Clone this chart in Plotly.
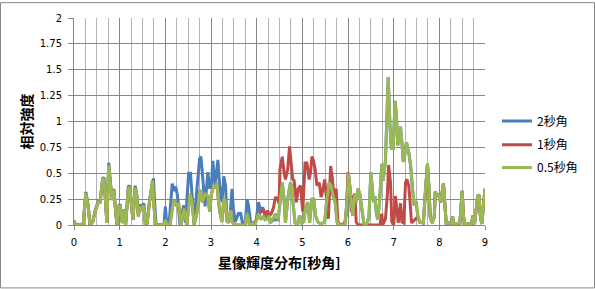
import plotly.graph_objects as go

# ---------------- data ----------------
series_names = ["2秒角", "1秒角", "0.5秒角"]
x_title = "星像輝度分布[秒角]"
y_title = "相対強度"
y_ticks = [0, 0.25, 0.5, 0.75, 1, 1.25, 1.5, 1.75, 2]
x_ticks = [0, 1, 2, 3, 4, 5, 6, 7, 8, 9]

# 0.5秒角 (green) profile
green_x = [0.00, 0.04, 0.20, 0.26, 0.31, 0.35, 0.41, 0.47, 0.54, 0.57, 0.63, 0.66, 0.72, 0.76, 0.81,
           0.84, 0.87, 0.91, 0.94, 0.99, 1.01, 1.06, 1.10, 1.13, 1.19, 1.22, 1.26, 1.29, 1.34, 1.37,
           1.41, 1.44, 1.47, 1.53, 1.56, 1.60, 1.66, 1.72, 1.75, 1.79, 1.97, 2.00, 2.03, 2.10, 2.18,
           2.22, 2.25, 2.29, 2.34, 2.41, 2.47, 2.54, 2.59, 2.63, 2.69, 2.76, 2.81, 2.87, 2.93, 2.97,
           3.01, 3.06, 3.10, 3.13, 3.16, 3.19, 3.24, 3.28, 3.31, 3.35, 3.38, 3.43, 3.46, 3.53, 3.75,
           3.79, 3.84, 3.97, 4.04, 4.09, 4.15, 4.18, 4.24, 4.28, 4.31, 4.37, 4.41, 4.47, 4.51, 4.56,
           4.60, 4.63, 4.69, 4.74, 4.76, 4.79, 4.84, 4.90, 4.94, 4.99, 5.03, 5.07, 5.12, 5.16, 5.21,
           5.25, 5.29, 5.34, 5.41, 5.49, 5.53, 5.59, 5.63, 5.68, 5.72, 5.76, 5.81, 5.93, 5.97, 6.01,
           6.06, 6.10, 6.15, 6.18, 6.22, 6.26, 6.31, 6.35, 6.41, 6.46, 6.50, 6.53, 6.56, 6.59, 6.62,
           6.65, 6.69, 6.74, 6.77, 6.82, 6.85, 6.88, 6.92, 6.95, 6.99, 7.03, 7.06, 7.09, 7.12, 7.15,
           7.18, 7.21, 7.24, 7.28, 7.33, 7.37, 7.41, 7.45, 7.49, 7.53, 7.57, 7.65, 7.69, 7.74, 7.77,
           7.80, 7.84, 7.89, 7.91, 7.95, 7.98, 8.03, 8.09, 8.12, 8.15, 8.27, 8.29, 8.32, 8.45, 8.50,
           8.53, 8.56, 8.70, 8.74, 8.77, 8.84, 8.87, 8.90, 8.93, 9.00]
green_y = [0.04, 0.00, 0.00, 0.31, 0.18, 0.00, 0.03, 0.14, 0.23, 0.21, 0.45, 0.44, 0.02, 0.58, 0.34,
           0.24, 0.34, 0.14, 0.00, 0.18, 0.18, 0.02, 0.14, 0.00, 0.35, 0.37, 0.18, 0.05, 0.36, 0.30,
           0.08, 0.18, 0.14, 0.19, 0.02, 0.02, 0.24, 0.43, 0.18, 0.00, 0.00, 0.05, 0.01, 0.00, 0.24,
           0.22, 0.18, 0.21, 0.00, 0.16, 0.00, 0.30, 0.21, 0.00, 0.11, 0.34, 0.22, 0.30, 0.28, 0.13,
           0.30, 0.38, 0.36, 0.41, 0.25, 0.13, 0.03, 0.25, 0.24, 0.05, 0.02, 0.14, 0.03, 0.00, 0.00,
           0.11, 0.01, 0.01, 0.11, 0.05, 0.09, 0.05, 0.06, 0.09, 0.02, 0.08, 0.11, 0.05, 0.19, 0.41,
           0.25, 0.02, 0.28, 0.41, 0.38, 0.22, 0.02, 0.01, 0.09, 0.02, 0.03, 0.16, 0.22, 0.02, 0.25,
           0.25, 0.09, 0.03, 0.01, 0.03, 0.22, 0.41, 0.38, 0.27, 0.22, 0.03, 0.00, 0.00, 0.19, 0.50,
           0.28, 0.09, 0.30, 0.22, 0.35, 0.30, 0.13, 0.01, 0.00, 0.09, 0.51, 0.38, 0.22, 0.28, 0.12,
           0.05, 0.22, 0.59, 0.43, 0.62, 1.10, 1.43, 0.95, 0.74, 0.74, 1.20, 1.06, 0.77, 0.86, 0.95,
           0.80, 0.61, 0.67, 0.80, 0.70, 0.58, 0.36, 0.19, 0.23, 0.08, 0.03, 0.02, 0.30, 0.59, 0.38,
           0.08, 0.02, 0.08, 0.32, 0.28, 0.30, 0.22, 0.40, 0.15, 0.02, 0.02, 0.08, 0.01, 0.02, 0.33,
           0.08, 0.01, 0.01, 0.09, 0.01, 0.28, 0.29, 0.08, 0.01, 0.35]

# 2秒角 (blue) profile where it differs from the others
blue_x_part = [0.00, 0.04, 0.20, 0.26, 0.31, 0.35, 0.41, 0.47, 0.54, 0.57, 0.63, 0.66, 0.72, 0.76, 0.81,
               0.84, 0.87, 0.91, 0.94, 0.99, 1.01, 1.06, 1.10, 1.13, 1.19, 1.22, 1.26, 1.29, 1.34, 1.37,
               1.41, 1.44, 1.47, 1.53, 1.56, 1.60, 1.66, 1.74, 1.77, 1.80, 1.97, 2.00, 2.03, 2.08, 2.15,
               2.19, 2.23, 2.27, 2.32, 2.40, 2.44, 2.51, 2.55, 2.60, 2.63, 2.69, 2.75, 2.78, 2.82, 2.87,
               2.93, 2.97, 3.01, 3.04, 3.09, 3.15, 3.19, 3.24, 3.28, 3.32, 3.35, 3.41, 3.46, 3.49, 3.53,
               3.60, 3.65, 3.69, 3.75, 3.79, 3.82, 3.87, 3.94, 3.99, 4.04, 4.09, 4.13, 4.16, 4.21, 4.26,
               4.31, 4.38]
blue_y_part = [0.04, 0.00, 0.00, 0.32, 0.19, 0.00, 0.03, 0.15, 0.24, 0.22, 0.46, 0.45, 0.02, 0.60, 0.35,
               0.25, 0.35, 0.15, 0.00, 0.19, 0.19, 0.02, 0.15, 0.00, 0.37, 0.38, 0.19, 0.05, 0.38, 0.31,
               0.10, 0.20, 0.16, 0.21, 0.02, 0.02, 0.26, 0.45, 0.18, 0.00, 0.00, 0.18, 0.02, 0.00, 0.40,
               0.33, 0.37, 0.27, 0.00, 0.19, 0.02, 0.50, 0.50, 0.18, 0.02, 0.34, 0.64, 0.66, 0.47, 0.18,
               0.51, 0.35, 0.40, 0.62, 0.38, 0.63, 0.38, 0.22, 0.47, 0.38, 0.03, 0.05, 0.35, 0.16, 0.03,
               0.11, 0.11, 0.02, 0.02, 0.25, 0.19, 0.02, 0.02, 0.05, 0.22, 0.13, 0.17, 0.14, 0.05, 0.09,
               0.03, 0.05]

# 1秒角 (red) profile where it differs from the others
red_x_part = [3.99, 4.04, 4.09, 4.15, 4.19, 4.24, 4.28, 4.32, 4.37, 4.41, 4.46, 4.49, 4.51, 4.56, 4.60,
              4.63, 4.68, 4.72, 4.76, 4.79, 4.82, 4.87, 4.91, 4.96, 4.99, 5.01, 5.06, 5.10, 5.15, 5.18,
              5.21, 5.24, 5.28, 5.32, 5.37, 5.41, 5.44, 5.49, 5.53, 5.57, 5.62, 5.66, 5.69, 5.74, 5.78,
              5.84, 5.93, 5.96, 6.00, 6.04, 6.07, 6.12, 6.15, 6.18, 6.22, 6.70, 6.74, 6.76, 6.82, 6.86,
              6.89, 6.93, 6.96, 7.00, 7.04, 7.07, 7.10, 7.15, 7.18, 7.22, 7.26, 7.29, 7.33, 7.36, 7.39]
red_y_part = [0.05, 0.08, 0.13, 0.14, 0.09, 0.14, 0.09, 0.11, 0.17, 0.27, 0.25, 0.21, 0.54, 0.66, 0.51,
              0.44, 0.54, 0.76, 0.57, 0.44, 0.43, 0.22, 0.35, 0.38, 0.22, 0.13, 0.60, 0.60, 0.44, 0.51,
              0.66, 0.63, 0.54, 0.38, 0.41, 0.27, 0.32, 0.44, 0.25, 0.06, 0.57, 0.44, 0.28, 0.35, 0.03,
              0.00, 0.02, 0.09, 0.51, 0.38, 0.13, 0.28, 0.30, 0.03, 0.00, 0.00, 0.11, 0.00, 0.06, 0.28,
              0.58, 0.41, 0.03, 0.00, 0.28, 0.13, 0.02, 0.21, 0.03, 0.02, 0.41, 0.44, 0.38, 0.22, 0.02]

# full series: where a series is hidden in the picture, it follows the green profile
green_pts = list(zip(green_x, green_y))
blue_pts = list(zip(blue_x_part, blue_y_part)) + [p for p in green_pts if p[0] >= 4.47]
red_pts = ([p for p in green_pts if p[0] <= 3.97] + list(zip(red_x_part, red_y_part))
           + [p for p in green_pts if p[0] >= 7.53])

colors = ["#4a7ebb", "#be4b48", "#98b954"]

# ---------------- layout geometry ----------------
W, H = 595, 289
L, R, T, B = 74, 485, 16, 225
PW, PH = R - L, B - T


def px_x(px):
    return (px - L) / PW


def px_y(py):
    return (B - py) / PH


fig = go.Figure()
legend_ids = ["legend", "legend2", "legend3"]
for name, pts, col, lid in zip(series_names, [blue_pts, red_pts, green_pts], colors, legend_ids):
    fig.add_trace(go.Scatter(
        x=[p[0] for p in pts], y=[p[1] for p in pts], mode="lines", name=name,
        line=dict(color=col, width=3), legend=lid, hoverinfo="skip"))

cjk = "Noto Sans CJK JP"
grid_dark = "#878787"
grid_light = "#b4b4b4"

legend_style = dict(xanchor="left", yanchor="middle", bgcolor="rgba(0,0,0,0)",
                    font=dict(family=cjk, size=12, color="#000"), itemwidth=30,
                    tracegroupgap=0)

fig.update_layout(
    width=W, height=H, autosize=False,
    margin=dict(l=L, r=W - R, t=T, b=H - B, pad=0),
    paper_bgcolor="white", plot_bgcolor="white",
    showlegend=True,
    legend=dict(x=px_x(497), y=px_y(120), **legend_style),
    legend2=dict(x=px_x(497), y=px_y(144), **legend_style),
    legend3=dict(x=px_x(497), y=px_y(167), **legend_style),
    xaxis=dict(range=[0, 9], tickmode="array", tickvals=x_ticks,
               ticks="outside", ticklen=4, tickcolor=grid_dark,
               showline=True, linecolor=grid_dark, linewidth=1,
               showgrid=True, gridcolor=grid_dark, gridwidth=1, zeroline=False,
               minor=dict(dtick=0.25, showgrid=True, gridcolor=grid_light, gridwidth=1, ticks=""),
               tickfont=dict(family="DejaVu Sans", size=10, color="#000"),
               ticklabelstandoff=4, fixedrange=True),
    yaxis=dict(range=[0, 2], tickmode="array", tickvals=y_ticks,
               ticktext=[f"{v:g}" for v in y_ticks],
               ticks="outside", ticklen=5, tickcolor=grid_dark,
               showline=True, linecolor=grid_dark, linewidth=1,
               showgrid=True, gridcolor=grid_dark, gridwidth=1, zeroline=False,
               tickfont=dict(family="DejaVu Sans", size=10, color="#000"),
               ticklabelstandoff=4, fixedrange=True),
    annotations=[
        dict(text=f"<b>{x_title}</b>", xref="paper", yref="paper",
             x=0.5, y=px_y(262), xanchor="center", yanchor="middle", showarrow=False,
             font=dict(family=cjk, size=14, color="#000")),
        dict(text=f"<b>{y_title}</b>", xref="paper", yref="paper",
             x=px_x(25), y=0.5, xanchor="center", yanchor="middle", showarrow=False,
             textangle=-90, font=dict(family=cjk, size=14, color="#000")),
    ],
    shapes=[dict(type="rect", xref="paper", yref="paper",
                 x0=px_x(0.5), x1=px_x(W - 0.5), y0=px_y(H - 0.5), y1=px_y(0.5),
                 line=dict(color=grid_dark, width=1), fillcolor="rgba(0,0,0,0)", layer="below")],
)

fig.write_html("out.html", config={"displayModeBar": False})
